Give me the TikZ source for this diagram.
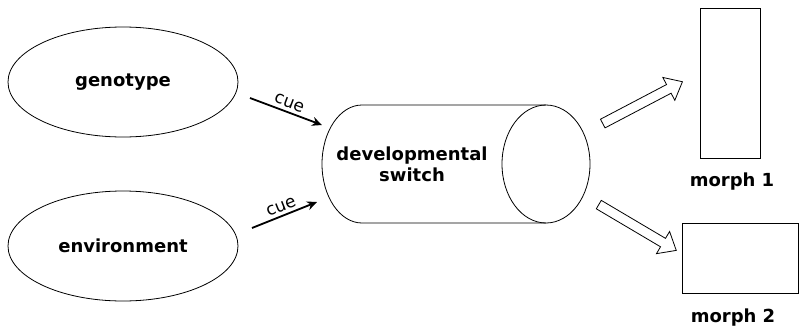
\documentclass[tikz,border=0pt]{standalone}
\usepackage{fontspec}
\setmainfont{DejaVu Sans}
\usetikzlibrary{shapes.geometric,shapes.arrows,arrows.meta}
\begin{document}
\begin{tikzpicture}[x=1pt,y=-1pt,
    every node/.style={font=\fontsize{18}{21}\selectfont\bfseries},
    blob/.style={ellipse,draw,thick,inner sep=0pt,minimum width=230pt,minimum height=110pt},
    cue/.style={line width=1.8pt,-{Stealth[length=10pt,width=9pt]}},
    cuelabel/.style={sloped,above,font=\fontsize{17}{20}\selectfont},
    outcome/.style={single arrow,draw,thick,inner sep=4.5pt,minimum height=90pt,
      single arrow head extend=8pt,single arrow tip angle=80},
    morph/.style={rectangle,draw,thick}]
    \useasboundingbox (0,0) rectangle (799,332);
    \node[blob] (geno) at (123,82) {genotype};
    \node[blob] (env) at (123,246) {environment};
    % the switch, a cylinder lying on its side
    \draw[thick] (546,105) -- (362,105)
      arc[start angle=-90,end angle=-270,x radius=40,y radius=59] -- (546,223);
    \draw[thick] (546,164) ellipse[x radius=44,y radius=59];
    \node[align=center] (switch) at (412,164) {developmental\\switch};
    \coordinate (cuea) at (250,98);
    \coordinate (cueb) at (252,228);
    \coordinate (ina) at (322,125);
    \coordinate (inb) at (317,202);
    \draw[cue] (cuea) -- node[cuelabel] {cue} (ina);
    \draw[cue] (cueb) -- node[cuelabel] {cue} (inb);
    \node[outcome,rotate=27.7] (outa) at (640,104) {};
    \node[outcome,rotate=-30.6] (outb) at (635,226) {};
    \node[morph,minimum width=60pt,minimum height=150pt] (m1) at (730,83) {};
    \node (m1l) at (732,182) {morph 1};
    \node[morph,minimum width=116pt,minimum height=70pt] (m2) at (740,258) {};
    \node (m2l) at (733,318) {morph 2};
  \end{tikzpicture}
\end{document}
